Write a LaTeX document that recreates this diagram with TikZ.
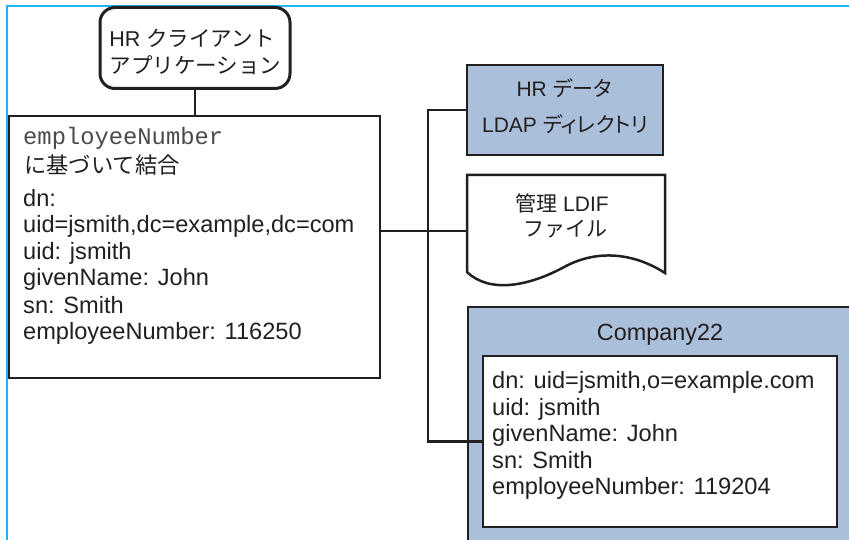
\documentclass[tikz,border=0pt]{standalone}
\usepackage{fontspec}
\setmainfont{Liberation Sans}
\newfontfamily\jp{Noto Sans CJK JP}
\newfontfamily\jpp[RawFeature=+palt]{Noto Sans CJK JP}
\newfontfamily\mymono{Liberation Mono}
\definecolor{dk}{HTML}{231F20}
\definecolor{bluefill}{HTML}{AABFD9}
\definecolor{frame}{HTML}{1EB4EC}
\definecolor{monogray}{HTML}{4A4A4A}
\tikzset{
  box/.style={draw=dk, line width=2.5pt, inner sep=0pt, outer sep=0pt},
  conn/.style={draw=dk, line width=2.5pt},
  ltxt/.style={anchor=base west, inner sep=0pt, text=dk, font=\fontsize{23.6}{26.5}\selectfont},
  ctxt/.style={anchor=base, inner sep=0pt, text=dk, font=\fontsize{21.5}{26}\selectfont},
}
\begin{document}
\begin{tikzpicture}[x=1pt,y=-1pt]
\useasboundingbox (0,0) rectangle (849,540);
\clip (0,0) rectangle (849,540);
\fill[white] (0,0) rectangle (849,540);
% frame lines
\draw[frame, line width=1.6pt] (7,540) -- (7,6) -- (849,6);

% client application
\node[box, line width=3pt, rounded corners=15pt, minimum width=190pt, minimum height=81pt, anchor=north west] (client) at (100,7.5) {};
\node[ctxt] (cl1) at (192,47) {HR {\jp クライアント}};
\node[ctxt] (cl2) at (195.5,74) {\jp アプリケーション};

% main entry box
\node[box, minimum width=371pt, minimum height=262pt, anchor=north west] (main) at (9,116) {};
\node[ltxt, text=monogray, font=\mymono\fontsize{23.8}{26}\selectfont] (m0) at (23,145) {employeeNumber};
\node[ltxt, font=\jp\fontsize{22.3}{26}\selectfont] (m1) at (24,174) {に基づいて結合};
\node[ltxt] (m2) at (23,206.5) {dn:};
\node[ltxt] (m3) at (23,233) {uid=jsmith,dc=example,dc=com};
\node[ltxt] (m4) at (23,259.5) {uid: jsmith};
\node[ltxt] (m5) at (23,286) {givenName: John};
\node[ltxt] (m6) at (23,313) {sn: Smith};
\node[ltxt] (m7) at (23,339.5) {employeeNumber: 116250};

% HR data LDAP directory
\node[box, fill=bluefill, minimum width=196pt, minimum height=90pt, anchor=north west] (hrdata) at (467,65) {};
\node[ctxt, font=\fontsize{21}{26}\selectfont] (hd1) at (564,96.5) {HR {\jpp データ}};
\node[ctxt, font=\fontsize{21}{26}\selectfont] (hd2) at (565,133) {LDAP {\jpp ディレクトリ}};

% LDIF document
\draw[conn, fill=white, line join=miter] (467,175) -- (665,175) -- (665,273)
  .. controls (642,258) and (605,246) .. (566,266)
  .. controls (530,286) and (490,294) .. (467,272) -- cycle;
\coordinate (ldifw) at (467,231);
\node[ctxt, font=\fontsize{21}{26}\selectfont] (ld1) at (562,212) {{\jp 管理} LDIF};
\node[ctxt, font=\jp\fontsize{21}{26}\selectfont] (ld2) at (565,236.5) {ファイル};

% Company22
\node[box, fill=bluefill, minimum width=420pt, minimum height=260pt, anchor=north west] (comp) at (468,307) {};
\node[ctxt, font=\fontsize{23.4}{26}\selectfont] (comptitle) at (660,340) {Company22};
\node[box, fill=white, minimum width=354pt, minimum height=171pt, anchor=north west] (inner) at (483,356) {};
\node[ltxt] (i1) at (492,388.5) {dn: uid=jsmith,o=example.com};
\node[ltxt] (i2) at (492,415) {uid: jsmith};
\node[ltxt] (i3) at (492,441.5) {givenName: John};
\node[ltxt] (i4) at (492,468) {sn: Smith};
\node[ltxt] (i5) at (492,494.5) {employeeNumber: 119204};

% connectors
\coordinate (bus) at (428,300);
\draw[conn] (client.south) -- (client.south |- main.north);
\draw[conn] (hrdata.west) -| (bus) |- (inner.west);
\draw[conn] (main.east |- ldifw) -- (ldifw);
\end{tikzpicture}
\end{document}
